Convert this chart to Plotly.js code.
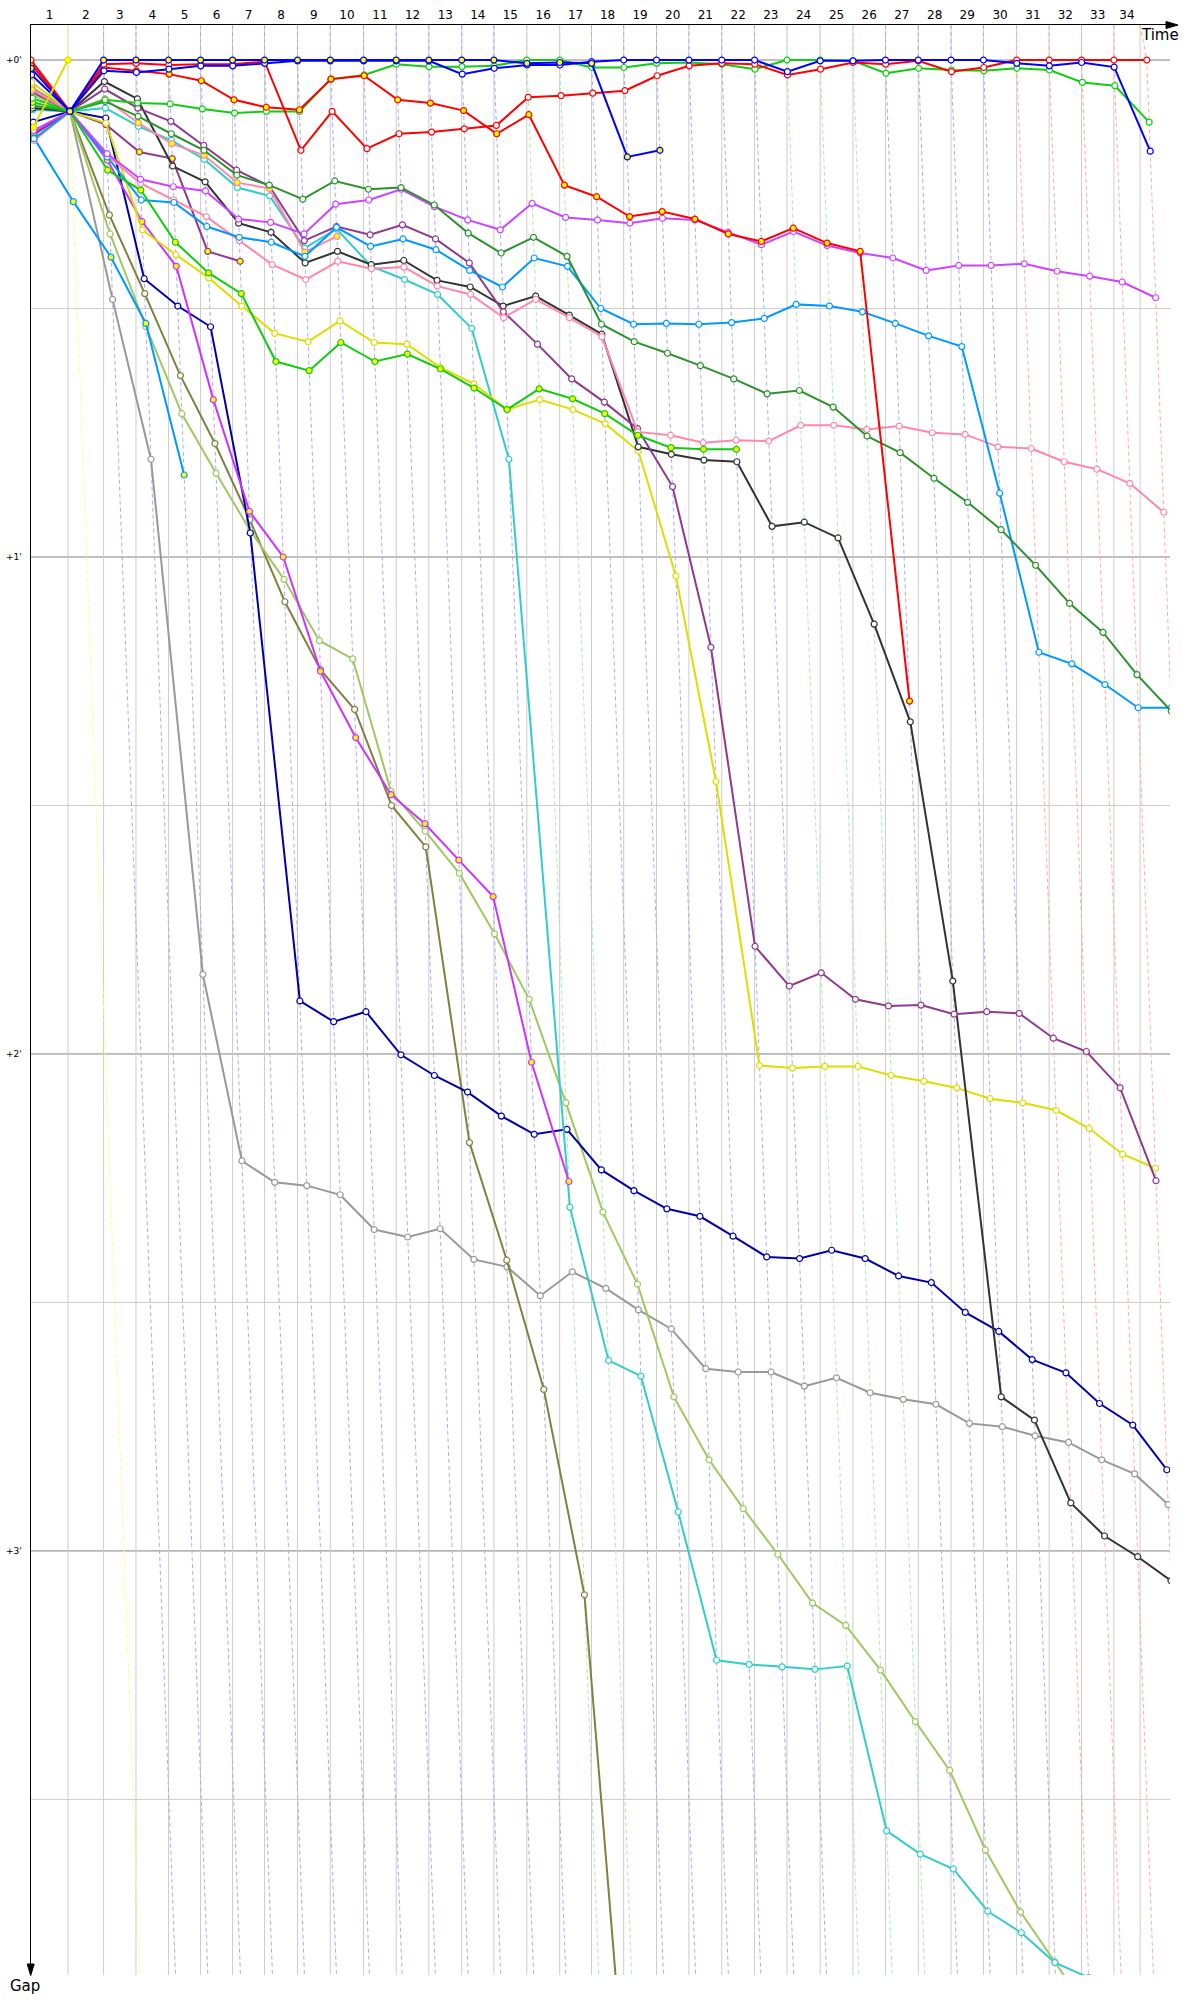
<!DOCTYPE html>
<html><head><meta charset="utf-8">
<script src="https://cdn.plot.ly/plotly-3.0.1.min.js"></script>
<style>html,body{margin:0;padding:0;background:#fff}#chart{width:1200px;height:2000px}</style>
</head><body><div id="chart"></div>
<script>
// Leader crossing time (s) at the end of each lap k = 0..34
const lapCross = [0,119.0,233.4,337.6,442.4,545.3,648.2,751.1,857.2,962.4,1069.5,1174.6,1279.4,1385.2,1488.7,1594.5,1700.3,1802.6,1906.1,2011.6,2115.8,2221.5,2327.0,2431.2,2537.9,2643.4,2747.9,2853.4,2958.8,3063.0,3169.8,3274.3,3378.5,3482.6,3588.4];
const flagTime = 3566.9;
// Track status of each lap line (k = 0..34): Y yellow, B normal, G green, R red
const lapStatus = ['','Y','B','B','B','B','B','B','B','B','B','B','B','B','B','G','G','B','B','B','B','B','B','G','G','G','B','B','B','B','R','R','R','R','R'];
const lapLabels = ['1','2','3','4','5','6','7','8','9','10','11','12','13','14','15','16','17','18','19','20','21','22','23','24','25','26','27','28','29','30','31','32','33','34'];
const gapTicks = [0,60,120,180];
const gapTickText = ["+0'","+1'","+2'","+3'"];

// Gaps to leader (s), index = lap 0..n
const gapRedWhite = [0,6.2,0.5,0.4,0.6,0.5,0.5,0.2,10.9,6.2,10.7,8.9,8.7,8.3,7.9,4.5,4.3,4.0,3.7,1.9,0.7,0.4,0.5,1.8,1.1,0.3,0.5,0.1,1.4,0.9,0,0,0,0,0];
const gapRedYellow = [0.5,6.2,0.9,1.3,1.7,2.5,4.8,5.7,6.0,2.3,1.9,4.8,5.2,6.1,8.9,6.6,15.1,16.5,18.9,18.3,19.2,21.0,21.9,20.3,22.1,23.1,77.4];
const gapBlueYellow = [1.0,6.2,0,0,0,0,0,0,0,0,0,0,0,0,0,0.4,0.3,0.4,11.7,10.9];
const gapBlueWhite = [1.8,6.2,1.3,1.5,1.1,0.7,0.7,0.4,0.1,0.1,0.1,0.1,0.1,1.7,1.0,0.6,0.6,0.2,0,0,0,0,0,1.4,0.1,0.1,0,0,0,0,0.4,0.7,0.3,0.85,11.0];
const gapGreenA = [4.6,6.2,4.8,5.2,5.3,5.9,6.4,6.2,6.2,2.3,1.8,0.5,0.8,0.8,0.7,0,0,0.9,0.9,0.4,0.3,0.5,1.1,0,0,0.1,1.6,1.0,1.2,1.3,1.0,1.2,2.7,3.1,7.5];
const gapGreenB = [5.1,6.2,13.3,15.7,22.0,25.7,28.2,36.4,37.5,34.1,36.4,35.5,37.3,39.6,42.2,39.7,40.9,42.7,45.3,46.8,47.0,47.0];
const gapDarkGreen = [5.5,6.2,5.0,6.8,8.9,10.9,13.9,15.1,16.8,14.6,15.6,15.4,17.5,20.9,23.3,21.4,23.7,31.9,34.0,35.4,36.9,38.5,40.3,39.9,41.9,45.4,47.4,50.5,53.4,56.7,61.0,65.6,69.1,74.2,78.6];
const gapLightBlue = [9.5,6.2,11.7,16.9,17.2,20.1,21.4,22.0,23.7,20.2,22.5,21.6,22.9,25.4,27.4,23.9,24.9,30.0,31.9,31.8,31.9,31.7,31.2,29.5,29.7,30.4,31.8,33.3,34.6,52.3,71.5,72.9,75.4,78.2,78.2];
const gapLightBlueB = [9.4,17.1,23.8,31.8,50.1];
const gapViolet = [8.5,6.2,11.3,14.4,15.3,15.8,19.2,19.6,21.0,17.4,16.9,15.6,17.7,19.3,20.5,17.3,19.0,19.3,19.7,19.1,19.3,20.8,22.3,20.7,22.4,23.3,23.9,25.4,24.8,24.8,24.6,25.5,26.1,26.8,28.7];
const gapMagenta = [8.8,6.2,12.1,19.5,24.9,41.0,54.5,60.0,73.8,81.8,88.7,92.2,96.6,101.0,121.0,135.4];
const gapPink = [9.7,6.2,11.5,14.9,16.9,18.9,21.8,24.7,26.5,24.3,25.2,25.0,27.3,28.3,31.1,28.9,31.1,33.4,44.9,45.3,46.2,45.9,46.0,44.1,44.1,44.6,44.2,45.0,45.2,46.7,46.9,48.5,49.4,51.1,54.6];
const gapPinkB = [3.6,6.2,4.7,7.6,10.1,11.5,14.8,15.5,23.2,21.3];
const gapCyan = [6.0,6.2,5.8,8.0,9.7,12.0,15.4,16.4,22.7,20.4,24.9,26.5,28.3,32.4,48.2,138.5,157.0,158.9,175.3,193.2,193.7,194.0,194.3,193.9,213.8,216.6,218.4,223.5,226.1,229.7,231.5,236];
const gapBlack = [5.8,6.2,2.6,4.7,12.8,14.7,19.7,20.8,24.5,23.1,24.7,24.2,26.6,27.4,29.7,28.5,30.8,33.1,46.7,47.6,48.3,48.5,56.3,55.8,57.7,68.1,79.9,111.2,161.4,164.2,174.2,178.2,180.7,183.6];
const gapNavy = [7.5,6.2,7.0,26.4,29.7,32.2,57.1,113.6,116.1,114.9,120.1,122.6,124.6,127.5,129.7,129.1,134.0,136.5,138.7,139.6,142.0,144.5,144.7,143.7,144.7,146.8,147.6,151.2,153.5,156.9,158.5,162.2,164.8,170.2];
const gapGrey = [3.3,6.2,28.9,48.2,110.4,132.9,135.5,135.9,137.0,141.2,142.1,141.1,144.8,145.7,149.2,146.3,148.3,150.9,153.2,158.0,158.4,158.4,160.1,159.1,160.9,161.7,162.3,164.6,165.0,166.1,166.9,169.0,170.7,174.4];
const gapOlive = [3.9,6.2,18.7,28.2,38.1,46.3,55.5,65.4,73.6,78.4,90.0,95.0,130.7,144.9,160.5,185.3,275];
const gapLightOlive = [4.2,6.2,21.0,32.2,42.7,49.9,56.8,62.7,70.1,72.3,88.3,93.1,98.2,105.5,113.4,125.9,139.1,147.8,161.4,169.0,174.9,180.4,186.3,189.0,194.4,200.6,206.5,216.1,223.6,229.6,236];
const gapDarkPurple = [3.8,6.2,3.5,5.8,7.4,10.3,13.3,15.2,21.8,20.1,21.1,19.9,21.6,24.5,30.4,34.3,38.5,41.3,44.5,51.5,70.9,107.0,111.8,110.2,113.4,114.2,114.1,115.2,114.9,115.1,118.1,119.7,124.1,135.3];
const gapDarkPurpleB = [9.0,6.2,7.8,11.1,11.9,23.1,24.3];
const gapYellow = [2.7,6.2,7.6,20.5,23.5,26.3,29.7,33.0,34.0,31.5,34.1,34.3,37.1,39.1,42.2,41.0,42.2,43.9,47.2,62.3,87.1,121.4,121.7,121.5,121.5,122.6,123.3,124.1,125.4,125.9,126.8,129.0,132.1,133.8];
const gapYellowB = [8.1,0];

const series = [
  {g: gapGrey, c:'#999999', f:'#ffffff'},
  {g: gapOlive, c:'#808040', f:'#ffffff'},
  {g: gapLightOlive, c:'#a0c860', f:'#ffffff'},
  {g: gapNavy, c:'#0000aa', f:'#ffffff'},
  {g: gapCyan, c:'#33cccc', f:'#ffffff'},
  {g: gapMagenta, c:'#cc33ff', f:'#ffff00'},
  {g: gapDarkPurpleB, c:'#8e3a8e', f:'#ffff00'},
  {g: gapLightBlueB, c:'#0099ff', f:'#ffff00'},
  {g: gapYellow, c:'#dddd00', f:'#ffffff'},
  {g: gapBlack, c:'#333333', f:'#ffffff'},
  {g: gapDarkPurple, c:'#8e3a8e', f:'#ffffff'},
  {g: gapPink, c:'#ff88aa', f:'#ffffff'},
  {g: gapPinkB, c:'#ff88aa', f:'#ffff00'},
  {g: gapLightBlue, c:'#0099ff', f:'#ffffff'},
  {g: gapViolet, c:'#cc44ff', f:'#ffffff'},
  {g: gapDarkGreen, c:'#2e922e', f:'#ffffff'},
  {g: gapGreenB, c:'#11cc11', f:'#ffff00'},
  {g: gapGreenA, c:'#11cc11', f:'#ffffff'},
  {g: gapRedYellow, c:'#ff0000', f:'#ffff00'},
  {g: gapRedWhite, c:'#ff0000', f:'#ffffff'},
  {g: gapBlueWhite, c:'#0000ff', f:'#ffffff'},
  {g: gapBlueYellow, c:'#0000ff', f:'#ffff00'},
  {g: gapYellowB, c:'#dddd00', f:'#ffff00'}
];

const W = 1200, H = 2000, ML = 31, MR = 30, MT = 25, MB = 25;
const G_TOP = -4.23, G_BOTTOM = 231.2, X_MAX = 3663;
const px = v => (v - ML) / (W - ML - MR);        // pixel x -> paper
const py = v => (H - MB - v) / (H - MT - MB);    // pixel y -> paper

const traces = series.map(s => ({
  type: 'scatter', mode: 'lines+markers', hoverinfo: 'skip', showlegend: false,
  x: s.g.map((g, k) => lapCross[k] + g), y: s.g,
  line: {color: s.c, width: 2},
  marker: {size: 6, color: s.f, line: {color: s.c, width: 1.2}}
}));

const shapes = [];
// horizontal gridlines
[30,90,150,210].forEach(g => shapes.push({type:'line', xref:'x', yref:'y', x0:0, x1:X_MAX, y0:g, y1:g, layer:'below', line:{color:'#cccccc', width:1}}));
gapTicks.forEach(g => shapes.push({type:'line', xref:'x', yref:'y', x0:0, x1:X_MAX, y0:g, y1:g, layer:'below', line:{color:'#808080', width:1}}));
// vertical lap boundaries
const bounds = lapCross.slice(0, 34).concat([flagTime]);
bounds.slice(1).forEach(t => shapes.push({type:'line', xref:'x', yref:'y', x0:t, x1:t, y0:G_TOP, y1:G_BOTTOM, layer:'below', line:{color:'#cccccc', width:1}}));
// dashed lap lines (slope 1: x = crossing + gap)
const statusColor = {Y:'#ffff80', B:'#aaaaff', G:'#a8eea8', R:'#ffaaaa'};
for (let k = 1; k <= 34; k++) {
  const x0 = k === 34 ? flagTime : lapCross[k];
  const xc = lapCross[k], gEnd = 300;
  shapes.push({type:'path', xref:'x', yref:'y', layer:'below',
    path:`M ${x0},${G_TOP} L ${xc},0 L ${xc + gEnd},${gEnd}`,
    line:{color: statusColor[lapStatus[k]], width:1, dash:'4px,3px'}});
}
// axis arrows
shapes.push({type:'line', xref:'paper', yref:'paper', x0:1, x1:px(1172), y0:1, y1:1, line:{color:'#000', width:1.5}});
shapes.push({type:'path', xref:'paper', yref:'paper', fillcolor:'#000', line:{color:'#000', width:1},
  path:`M ${px(1166)},${py(21.5)} L ${px(1178)},${py(25)} L ${px(1166)},${py(28.5)} Z`});
shapes.push({type:'path', xref:'paper', yref:'paper', fillcolor:'#000', line:{color:'#000', width:1},
  path:`M ${px(27.2)},${py(1964)} L ${px(30.7)},${py(1975.5)} L ${px(34.2)},${py(1964)} Z`});

const tickMids = lapLabels.map((l, i) => (bounds[i] + bounds[i + 1]) / 2);

const layout = {
  width: W, height: H, margin: {l: ML, r: MR, t: MT, b: MB, pad: 0},
  paper_bgcolor: '#fff', plot_bgcolor: '#fff', hovermode: false, showlegend: false,
  font: {family: 'DejaVu Sans, Verdana, sans-serif', color: '#000'},
  xaxis: {side: 'top', range: [0, X_MAX], tickvals: tickMids, ticktext: lapLabels, ticks: '',
    showline: true, linecolor: '#000', linewidth: 1.5, showgrid: false, zeroline: false,
    tickfont: {size: 12, color: '#000'}, fixedrange: true},
  yaxis: {range: [G_BOTTOM, G_TOP], tickvals: gapTicks, ticktext: gapTickText, ticks: '',
    showline: true, linecolor: '#000', linewidth: 1.5, showgrid: false, zeroline: false,
    tickfont: {size: 9, color: '#000'}, ticklabelstandoff: 6, fixedrange: true},
  shapes: shapes,
  annotations: [
    {xref:'paper', yref:'paper', x: px(1160), y: py(35), xanchor:'center', yanchor:'middle', text:'Time', showarrow:false, font:{size:15, color:'#000'}},
    {xref:'paper', yref:'paper', x: px(25), y: py(1986), xanchor:'center', yanchor:'middle', text:'Gap', showarrow:false, font:{size:15, color:'#000'}}
  ]
};

Plotly.newPlot('chart', traces, layout, {staticPlot: true, displayModeBar: false});
</script>
</body></html>
